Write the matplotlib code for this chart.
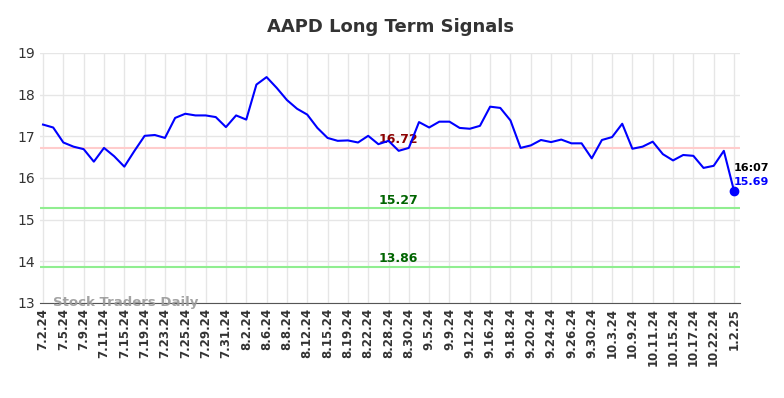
import matplotlib.pyplot as plt

## Dati
tick_labels = ['7.2.24', '7.5.24', '7.9.24', '7.11.24', '7.15.24', '7.19.24', '7.23.24',
               '7.25.24', '7.29.24', '7.31.24', '8.2.24', '8.6.24', '8.8.24', '8.12.24',
               '8.15.24', '8.19.24', '8.22.24', '8.28.24', '8.30.24', '9.5.24', '9.9.24',
               '9.12.24', '9.16.24', '9.18.24', '9.20.24', '9.24.24', '9.26.24', '9.30.24',
               '10.3.24', '10.9.24', '10.11.24', '10.15.24', '10.17.24', '10.22.24', '1.2.25']
prices = [17.28, 17.21, 16.85, 16.75, 16.69, 16.39, 16.72, 16.52, 16.27, 16.65,
          17.01, 17.03, 16.96, 17.44, 17.54, 17.50, 17.50, 17.46, 17.22, 17.50,
          17.40, 18.24, 18.42, 18.16, 17.87, 17.66, 17.52, 17.20, 16.96, 16.89,
          16.90, 16.85, 17.01, 16.81, 16.89, 16.65, 16.72, 17.34, 17.21, 17.35,
          17.35, 17.20, 17.18, 17.25, 17.71, 17.68, 17.38, 16.72, 16.78, 16.91,
          16.86, 16.92, 16.83, 16.83, 16.47, 16.91, 16.98, 17.30, 16.70, 16.75,
          16.87, 16.57, 16.42, 16.55, 16.53, 16.24, 16.29, 16.65, 15.69]
resistance = 16.72
supports = [15.27, 13.86]
last_time = '16:07'

x = list(range(len(prices)))
ticks = list(range(0, len(prices), 2))

fig = plt.figure(figsize=(7.84, 3.98), dpi=100)
ax = fig.add_axes([0.051, 0.239, 0.893, 0.628])

ax.set_xlim(-0.3, len(prices) - 0.4)
ax.set_ylim(13, 19)

## Linee di segnale
ax.axhline(resistance, color='#ffcccc', lw=1.5, zorder=1)
for s in supports:
    ax.axhline(s, color='#90ee90', lw=1.5, zorder=1)

mid = 35
ax.text(mid, resistance + 0.04, '%.2f' % resistance, color='#8b0000',
        fontsize=9, fontweight='bold', ha='center', va='bottom')
for s in supports:
    ax.text(mid, s + 0.04, '%.2f' % s, color='#006400',
            fontsize=9, fontweight='bold', ha='center', va='bottom')

## Prezzo
ax.plot(x, prices, color='blue', lw=1.5, zorder=3)
ax.plot(x[-1], prices[-1], 'o', color='blue', markersize=6, zorder=4)
ax.text(x[-1], prices[-1] + 0.55, last_time, color='black', fontsize=8,
        fontweight='bold', ha='left', va='center')
ax.text(x[-1], prices[-1] + 0.21, '%.2f' % prices[-1], color='blue', fontsize=8,
        fontweight='bold', ha='left', va='center')

ax.text(1, 13.0, 'Stock Traders Daily', color='#999999', fontsize=9.5,
        fontweight='bold', ha='left', va='center', alpha=0.9)

ax.set_xticks(ticks)
ax.set_xticklabels(tick_labels, rotation=90, fontsize=8.5, fontweight='bold', color='#333333')
ax.set_yticks(range(13, 20))
ax.tick_params(axis='y', labelsize=10, colors='#333333', length=0)
ax.tick_params(axis='x', length=0)
ax.grid(color='#e6e6e6', lw=1)
ax.set_axisbelow(True)
for side in ['top', 'right', 'left']:
    ax.spines[side].set_visible(False)
ax.spines['bottom'].set_color('#555555')

ax.set_title('AAPD Long Term Signals', fontsize=13, fontweight='bold', color='#333333', pad=15)

plt.savefig('out.png', dpi=100)
